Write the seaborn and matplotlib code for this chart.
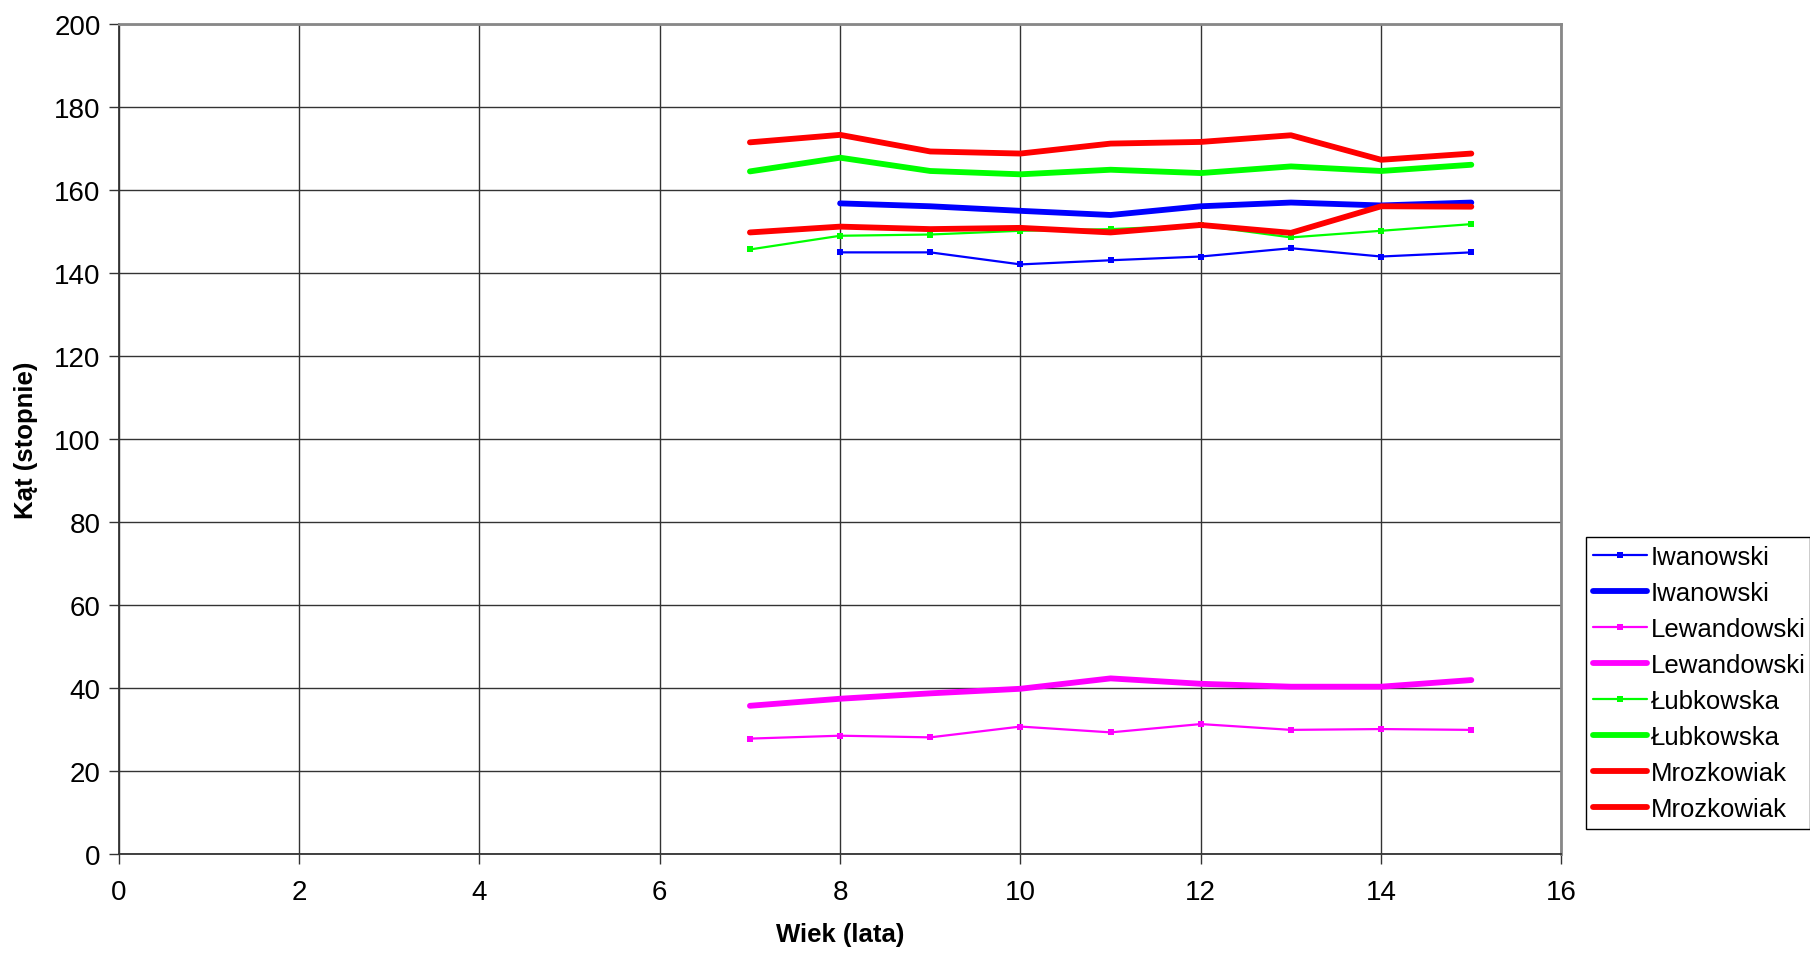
import matplotlib
matplotlib.use("Agg")
import matplotlib.pyplot as plt
import seaborn as sns
import pandas as pd

# Age (years)
age_all = [7, 8, 9, 10, 11, 12, 13, 14, 15]
age_from8 = [8, 9, 10, 11, 12, 13, 14, 15]

# Angle values (degrees) per author; two series each
iwanowski_a = [145.0, 145.0, 142.1, 143.1, 144.0, 146.0, 144.0, 145.0]
iwanowski_b = [156.8, 156.1, 155.0, 154.0, 156.1, 157.0, 156.3, 157.0]
lewandowski_a = [27.9, 28.6, 28.2, 30.8, 29.4, 31.4, 30.0, 30.2, 30.0]
lewandowski_b = [35.8, 37.5, 38.8, 39.9, 42.4, 41.1, 40.4, 40.4, 42.0]
lubkowska_a = [145.7, 149.0, 149.3, 150.2, 150.6, 151.5, 148.6, 150.2, 151.8]
lubkowska_b = [164.5, 167.8, 164.6, 163.8, 164.9, 164.1, 165.7, 164.6, 166.1]
mrozkowiak_a = [171.5, 173.3, 169.3, 168.8, 171.2, 171.6, 173.2, 167.3, 168.8]
mrozkowiak_b = [149.8, 151.2, 150.6, 150.9, 149.8, 151.6, 149.7, 156.1, 156.0]

series = [
    ("Iwanowski", age_from8, iwanowski_a, "#0000FF", "thin"),
    ("Iwanowski", age_from8, iwanowski_b, "#0000FF", "thick"),
    ("Lewandowski", age_all, lewandowski_a, "#FF00FF", "thin"),
    ("Lewandowski", age_all, lewandowski_b, "#FF00FF", "thick"),
    ("Łubkowska", age_all, lubkowska_a, "#00FF00", "thin"),
    ("Łubkowska", age_all, lubkowska_b, "#00FF00", "thick"),
    ("Mrozkowiak", age_all, mrozkowiak_a, "#FF0000", "thick"),
    ("Mrozkowiak", age_all, mrozkowiak_b, "#FF0000", "thick"),
]

sns.set_style("white")
plt.rcParams["font.family"] = ["Liberation Sans", "DejaVu Sans"]
plt.rcParams["text.color"] = "black"
plt.rcParams["axes.labelcolor"] = "black"
plt.rcParams["xtick.labelcolor"] = "black"
plt.rcParams["ytick.labelcolor"] = "black"

fig = plt.figure(figsize=(18.10, 9.54), dpi=100)
ax = fig.add_axes([0.0656, 0.1033, 0.8627 - 0.0656, 0.9738 - 0.1033])

for name, xs, ys, color, kind in series:
    df = pd.DataFrame({"x": xs, "y": ys})
    if kind == "thin":
        sns.lineplot(data=df, x="x", y="y", ax=ax, color=color, linewidth=1.6,
                     marker="s", markersize=4, markeredgewidth=0,
                     estimator=None, sort=False, label=name)
    else:
        sns.lineplot(data=df, x="x", y="y", ax=ax, color=color, linewidth=4.2,
                     marker="s", markersize=3, markeredgewidth=0,
                     estimator=None, sort=False, label=name)

ax.set_xlim(0, 16)
ax.set_ylim(0, 200)
ax.set_xticks(range(0, 17, 2))
ax.set_yticks(range(0, 201, 20))
ax.grid(True, color="#333333", linewidth=1.0)
ax.set_axisbelow(True)

for side in ("top", "right"):
    ax.spines[side].set_color("#888888")
    ax.spines[side].set_linewidth(2.0)
for side in ("left", "bottom"):
    ax.spines[side].set_color("#333333")
    ax.spines[side].set_linewidth(1.3)

ax.tick_params(axis="both", which="major", direction="out", length=7,
               width=1.0, color="#333333", labelcolor="black", labelsize=20,
               pad=6, bottom=True, left=True)
ax.tick_params(axis="x", pad=11)

ax.set_xlabel("Wiek (lata)", fontsize=18.5, fontweight="bold", labelpad=12,
              color="black")
ax.set_ylabel("Kąt (stopnie)", fontsize=18.5, fontweight="bold", labelpad=12,
              color="black",
              family=["Liberation Sans Narrow", "Liberation Sans", "DejaVu Sans"])

leg = ax.legend(loc="lower left", bbox_to_anchor=(0.876, 0.130, 0.124, 0.3176),
                bbox_transform=fig.transFigure, mode="expand", fontsize=18.5,
                frameon=True, fancybox=False, framealpha=1, edgecolor="#000000",
                handlelength=2.1, handletextpad=0.15, labelspacing=0.47,
                borderpad=0.3, borderaxespad=0.0, markerscale=1.0,
                labelcolor="black")
leg.get_frame().set_linewidth(1.0)

fig.savefig("out.png", dpi=100)
